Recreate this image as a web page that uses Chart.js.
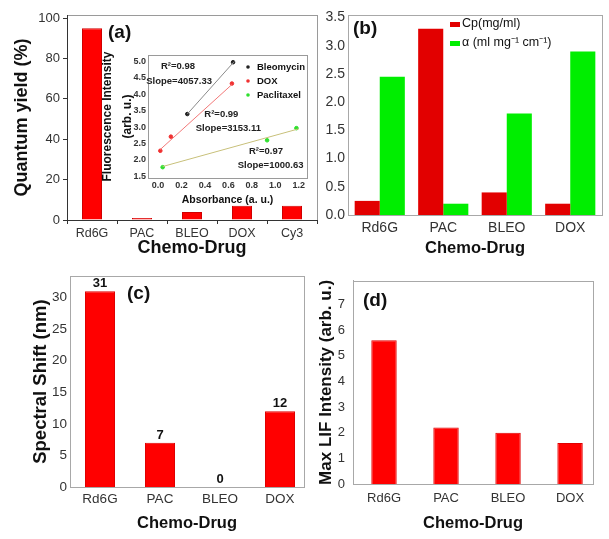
<!DOCTYPE html>
<html>
<head>
<meta charset="utf-8">
<script src="https://cdn.jsdelivr.net/npm/chart.js@4.4.1/dist/chart.umd.min.js"></script>
<style>
  body { margin: 0; background: #fff; }
  #fig { position: relative; width: 609px; height: 539px; overflow: hidden; }
  canvas { position: absolute; }
</style>
</head>
<body>
<div id="fig">
  <canvas id="qy" width="322" height="265" style="left:0;top:0"></canvas>
  <canvas id="inset" width="216" height="170" style="left:96px;top:45px"></canvas>
  <canvas id="cp" width="287" height="265" style="left:322px;top:0"></canvas>
  <canvas id="shift" width="312" height="274" style="left:0;top:265px"></canvas>
  <canvas id="lif" width="297" height="274" style="left:312px;top:265px"></canvas>
</div>
<script>
// (a) quantum yield
const qyDrugs = ['Rd6G', 'PAC', 'BLEO', 'DOX', 'Cy3'];
const quantumYield = [95, 1, 4, 7, 7];
const qyTicks = [0, 20, 40, 60, 80, 100];

// (a) inset: fluorescence vs absorbance
const absTicks = [0, 0.2, 0.4, 0.6, 0.8, 1.0, 1.2];
const fluoTicks = [1.5, 2.0, 2.5, 3.0, 3.5, 4.0, 4.5, 5.0];
const bleoAbs = [0.25, 0.64];
const bleoFluo = [3.4, 4.98];
const doxAbs = [0.02, 0.11, 0.63];
const doxFluo = [2.28, 2.71, 4.33];
const pacAbs = [0.04, 0.93, 1.18];
const pacFluo = [1.78, 2.6, 2.97];
// fit lines, end points as drawn
const bleoFitAbs = [0.25, 0.65];
const bleoFitFluo = [3.4, 5.0];
const doxFitAbs = [0.02, 0.63];
const doxFitFluo = [2.32, 4.3];
const pacFitAbs = [0.04, 1.2];
const pacFitFluo = [1.8, 2.95];
const fitR2 = ['0.98', '0.99', '0.97'];
const fitSlope = ['4057.33', '3153.11', '1000.63'];

// (b), (c), (d)
const drugs = ['Rd6G', 'PAC', 'BLEO', 'DOX'];
const cpValues = [0.25, 3.3, 0.4, 0.2];
const alphaValues = [2.45, 0.2, 1.8, 2.9];
const cpTicks = [0, 0.5, 1.0, 1.5, 2.0, 2.5, 3.0, 3.5];
const shiftValues = [31, 7, 0, 12];
const shiftTicks = [0, 5, 10, 15, 20, 25, 30];
const lifValues = [5.6, 2.2, 2.0, 1.6];
const lifTicks = [0, 1, 2, 3, 4, 5, 6, 7];

const RED = '#ff0000';
const GREEN = '#00ee00';
const TICK = '#333';
const INK = '#111';
const FRAME = '#a8a8a8';

Chart.defaults.font.family = "'Liberation Sans', Arial, sans-serif";
Chart.defaults.color = TICK;

// where the inset texts sit, in data units
const notePos = [
  { x: 0.17, y: 4.84 }, { x: 0.18, y: 4.39 },
  { x: 0.54, y: 3.40 }, { x: 0.60, y: 2.97 },
  { x: 0.92, y: 2.25 }, { x: 0.96, y: 1.83 }
];

const setTicks = list => scale => { scale.ticks = list.map(v => ({ value: v })); };
const xy = (xs, ys) => xs.map((x, i) => ({ x: x, y: ys[i] }));
const idx = vals => vals.map((v, i) => ({ x: i + 1, y: v }));
const noGrid = { display: false, drawTicks: false };

// box round the plot area
const framePlugin = {
  id: 'frame',
  beforeDraw(chart, args, opts) {
    const a = chart.chartArea, ctx = chart.ctx;
    ctx.save();
    ctx.strokeStyle = opts.color;
    ctx.lineWidth = 1;
    ctx.strokeRect(Math.round(a.left) + 0.5, Math.round(a.top) + 0.5,
      Math.round(a.right - a.left), Math.round(a.bottom - a.top));
    ctx.restore();
  }
};

// (a), (b) ... tags
const tagPlugin = {
  id: 'tag',
  afterDraw(chart, args, opts) {
    const a = chart.chartArea, ctx = chart.ctx;
    ctx.save();
    ctx.font = 'bold 19px "Liberation Sans", Arial, sans-serif';
    ctx.fillStyle = INK;
    ctx.textBaseline = 'middle';
    ctx.fillText(opts.text, a.left + opts.dx, a.top + opts.dy);
    ctx.restore();
  }
};

// legend drawn inside the plot area
const keyPlugin = {
  id: 'keys',
  afterDraw(chart, args, opts) {
    const a = chart.chartArea, ctx = chart.ctx;
    ctx.save();
    ctx.font = opts.font;
    ctx.textBaseline = 'middle';
    let n = 0;
    chart.data.datasets.forEach(ds => {
      if (!ds.label) return;
      const x = a.left + opts.dx, y = a.top + opts.dy + n * opts.gap;
      ctx.fillStyle = ds.pointBackgroundColor || ds.backgroundColor;
      if (opts.shape === 'dot') {
        ctx.beginPath(); ctx.arc(x, y, 1.8, 0, Math.PI * 2); ctx.fill();
      } else {
        ctx.fillRect(x, y - 2, 10, 5);
      }
      ctx.fillStyle = INK;
      ctx.fillText(ds.label, x + opts.textGap, y);
      n++;
    });
    ctx.restore();
  }
};

// R2 / slope texts in the inset
const notePlugin = {
  id: 'notes',
  afterDatasetsDraw(chart) {
    const ctx = chart.ctx, sx = chart.scales.x, sy = chart.scales.y;
    const texts = [];
    fitR2.forEach((r, i) => { texts.push('R\u00b2=' + r); texts.push('Slope=' + fitSlope[i]); });
    ctx.save();
    ctx.font = 'bold 9.5px "Liberation Sans", Arial, sans-serif';
    ctx.fillStyle = '#222';
    ctx.textAlign = 'center';
    ctx.textBaseline = 'middle';
    texts.forEach((t, i) => {
      ctx.fillText(t, sx.getPixelForValue(notePos[i].x), sy.getPixelForValue(notePos[i].y));
    });
    ctx.restore();
  }
};

// numbers over the bars in (c)
const valuePlugin = {
  id: 'values',
  afterDatasetsDraw(chart) {
    const ctx = chart.ctx;
    ctx.save();
    ctx.font = 'bold 13px "Liberation Sans", Arial, sans-serif';
    ctx.fillStyle = INK;
    ctx.textAlign = 'center';
    ctx.textBaseline = 'bottom';
    chart.getDatasetMeta(0).data.forEach((bar, i) => {
      ctx.fillText(String(shiftValues[i]), bar.x, bar.y - 1);
    });
    ctx.restore();
  }
};

const titleFont = size => ({ size: size, weight: 'bold' });

// (a)
new Chart(document.getElementById('qy'), {
  type: 'bar',
  data: {
    labels: qyDrugs,
    datasets: [{ data: quantumYield, backgroundColor: RED, borderColor: '#d00000', borderWidth: 1, barPercentage: 0.4, categoryPercentage: 1 }]
  },
  options: {
    responsive: false,
    animation: false,
    layout: { padding: { top: 15, right: 5 } },
    plugins: {
      legend: { display: false },
      tooltip: { enabled: false },
      frame: { color: '#9a9a9a' },
      tag: { text: '(a)', dx: 41, dy: 18 }
    },
    scales: {
      x: {
        grid: { display: true, offset: true, drawOnChartArea: false, tickLength: 4, color: '#333' },
        border: { color: '#333' },
        ticks: { font: { size: 12.5 }, padding: 2, maxRotation: 0, autoSkip: false },
        title: { display: true, text: 'Chemo-Drug', color: INK, font: titleFont(18), padding: { top: 0, bottom: 6 } },
        afterFit: s => { s.height = 45; }
      },
      y: {
        min: 0, max: 101.5,
        afterBuildTicks: setTicks(qyTicks),
        grid: { display: true, drawOnChartArea: false, tickLength: 4, color: '#333' },
        border: { color: '#333' },
        ticks: { font: { size: 13 }, padding: 3 },
        title: { display: true, text: 'Quantum yield (%)', color: INK, font: titleFont(18), padding: { top: 11, bottom: 0 } },
        afterFit: s => { s.width = 67; }
      }
    }
  },
  plugins: [framePlugin, tagPlugin]
});

// (a) inset
const fitLine = (xs, ys, color) => ({ data: xy(xs, ys), showLine: true, borderColor: color, borderWidth: 1, pointRadius: 0 });
const dots = (label, xs, ys, color) => ({ label: label, data: xy(xs, ys), pointBackgroundColor: color, pointBorderColor: color, pointRadius: 1.8, showLine: false });

new Chart(document.getElementById('inset'), {
  type: 'scatter',
  data: {
    datasets: [
      fitLine(bleoFitAbs, bleoFitFluo, '#8a8a8a'),
      fitLine(doxFitAbs, doxFitFluo, '#f27878'),
      fitLine(pacFitAbs, pacFitFluo, '#c8c07a'),
      dots('Bleomycin', bleoAbs, bleoFluo, '#222'),
      dots('DOX', doxAbs, doxFluo, '#f03030'),
      dots('Paclitaxel', pacAbs, pacFluo, '#2ee02e')
    ]
  },
  options: {
    responsive: false,
    animation: false,
    layout: { padding: { top: 10, right: 5 } },
    plugins: {
      legend: { display: false },
      tooltip: { enabled: false },
      frame: { color: '#9a9a9a' },
      keys: { dx: 100, dy: 12, gap: 14, shape: 'dot', textGap: 9, font: 'bold 9.5px "Liberation Sans", Arial, sans-serif' }
    },
    scales: {
      x: {
        type: 'linear', min: -0.085, max: 1.27,
        afterBuildTicks: setTicks(absTicks),
        grid: noGrid,
        border: { display: false },
        ticks: { font: { size: 9, weight: 'bold' }, padding: 2, maxRotation: 0, callback: v => v.toFixed(1) },
        title: { display: true, text: 'Absorbance (a. u.)', color: INK, font: titleFont(10.5), padding: { top: 0, bottom: 9 } },
        afterFit: s => { s.height = 37; }
      },
      y: {
        min: 1.45, max: 5.2,
        afterBuildTicks: setTicks(fluoTicks),
        grid: noGrid,
        border: { display: false },
        ticks: { font: { size: 9, weight: 'bold' }, padding: 2, callback: v => v.toFixed(1) },
        title: { display: true, text: ['Fluorescence Intensity', '(arb. u.)'], color: INK, font: { size: 12, weight: 'bold', lineHeight: 1.65 }, padding: { top: 2, bottom: 0 } },
        afterFit: s => { s.width = 52; }
      }
    }
  },
  plugins: [framePlugin, keyPlugin, notePlugin]
});

// (b)
new Chart(document.getElementById('cp'), {
  type: 'bar',
  data: {
    labels: drugs,
    datasets: [
      { label: 'Cp(mg/ml)', data: cpValues, backgroundColor: '#e20000' },
      { label: 'α (ml mg⁻¹ cm⁻¹)', data: alphaValues, backgroundColor: GREEN }
    ]
  },
  options: {
    responsive: false,
    animation: false,
    layout: { padding: { top: 15, right: 7 } },
    datasets: { bar: { barPercentage: 1, categoryPercentage: 0.79 } },
    plugins: {
      legend: { display: false },
      tooltip: { enabled: false },
      frame: { color: FRAME },
      tag: { text: '(b)', dx: 5, dy: 14 },
      keys: { dx: 102, dy: 9, gap: 19, shape: 'rect', textGap: 12, font: '12.5px "Liberation Sans", Arial, sans-serif' }
    },
    scales: {
      x: {
        grid: noGrid,
        border: { color: FRAME },
        ticks: { font: { size: 14 }, padding: 5, maxRotation: 0, autoSkip: false },
        title: { display: true, text: 'Chemo-Drug', color: INK, font: titleFont(16.5), padding: { top: 0, bottom: 7 } },
        afterFit: s => { s.height = 50; }
      },
      y: {
        min: 0, max: 3.545,
        afterBuildTicks: setTicks(cpTicks),
        grid: noGrid,
        border: { color: FRAME },
        ticks: { font: { size: 14 }, padding: 3, callback: v => v.toFixed(1) },
        afterFit: s => { s.width = 26; }
      }
    }
  },
  plugins: [framePlugin, tagPlugin, keyPlugin]
});

// (c)
new Chart(document.getElementById('shift'), {
  type: 'bar',
  data: {
    datasets: [{ data: idx(shiftValues), backgroundColor: RED, borderColor: '#e00000', borderWidth: 1, barPercentage: 0.5, categoryPercentage: 1 }]
  },
  options: {
    responsive: false,
    animation: false,
    layout: { padding: { top: 5, right: 8 } },
    plugins: {
      legend: { display: false },
      tooltip: { enabled: false },
      frame: { color: FRAME },
      tag: { text: '(c)', dx: 57, dy: 18 }
    },
    scales: {
      x: {
        type: 'linear', offset: false, min: 0.5, max: 4.4,
        afterBuildTicks: setTicks([1, 2, 3, 4]),
        grid: noGrid,
        border: { color: FRAME },
        ticks: { font: { size: 13.5 }, padding: 4, maxRotation: 0, autoSkip: false, callback: v => drugs[v - 1] },
        title: { display: true, text: 'Chemo-Drug', color: INK, font: titleFont(16.5), padding: { top: 0, bottom: 6 } },
        afterFit: s => { s.height = 52; }
      },
      y: {
        min: 0, max: 33.4,
        afterBuildTicks: setTicks(shiftTicks),
        grid: noGrid,
        border: { color: FRAME },
        ticks: { font: { size: 13.5 }, padding: 3 },
        title: { display: true, text: 'Spectral Shift (nm)', color: INK, font: titleFont(18.5), padding: { top: 30, bottom: 0 } },
        afterFit: s => { s.width = 70; }
      }
    }
  },
  plugins: [framePlugin, tagPlugin, valuePlugin]
});

// (d)
new Chart(document.getElementById('lif'), {
  type: 'bar',
  data: {
    datasets: [{ data: idx(lifValues), backgroundColor: RED, borderColor: '#e00000', borderWidth: 1, barPercentage: 0.41, categoryPercentage: 1 }]
  },
  options: {
    responsive: false,
    animation: false,
    layout: { padding: { top: 3, right: 16 } },
    plugins: {
      legend: { display: false },
      tooltip: { enabled: false },
      frame: { color: FRAME },
      tag: { text: '(d)', dx: 10, dy: 20 }
    },
    scales: {
      x: {
        type: 'linear', offset: false, min: 0.5, max: 4.37,
        afterBuildTicks: setTicks([1, 2, 3, 4]),
        grid: noGrid,
        border: { color: FRAME },
        ticks: { font: { size: 13 }, padding: 7, maxRotation: 0, autoSkip: false, callback: v => drugs[v - 1] },
        title: { display: true, text: 'Chemo-Drug', color: INK, font: titleFont(16.5), padding: { top: 0, bottom: 6 } },
        afterFit: s => { s.height = 55; }
      },
      y: {
        min: 0, max: 7.92,
        afterBuildTicks: setTicks(lifTicks),
        grid: noGrid,
        border: { color: FRAME },
        ticks: { font: { size: 13 }, padding: 8 },
        title: { display: true, text: 'Max LIF Intensity (arb. u.)', color: INK, font: titleFont(17), padding: { top: 4, bottom: 0 } },
        afterFit: s => { s.width = 41; }
      }
    }
  },
  plugins: [framePlugin, tagPlugin]
});
</script>
</body>
</html>
